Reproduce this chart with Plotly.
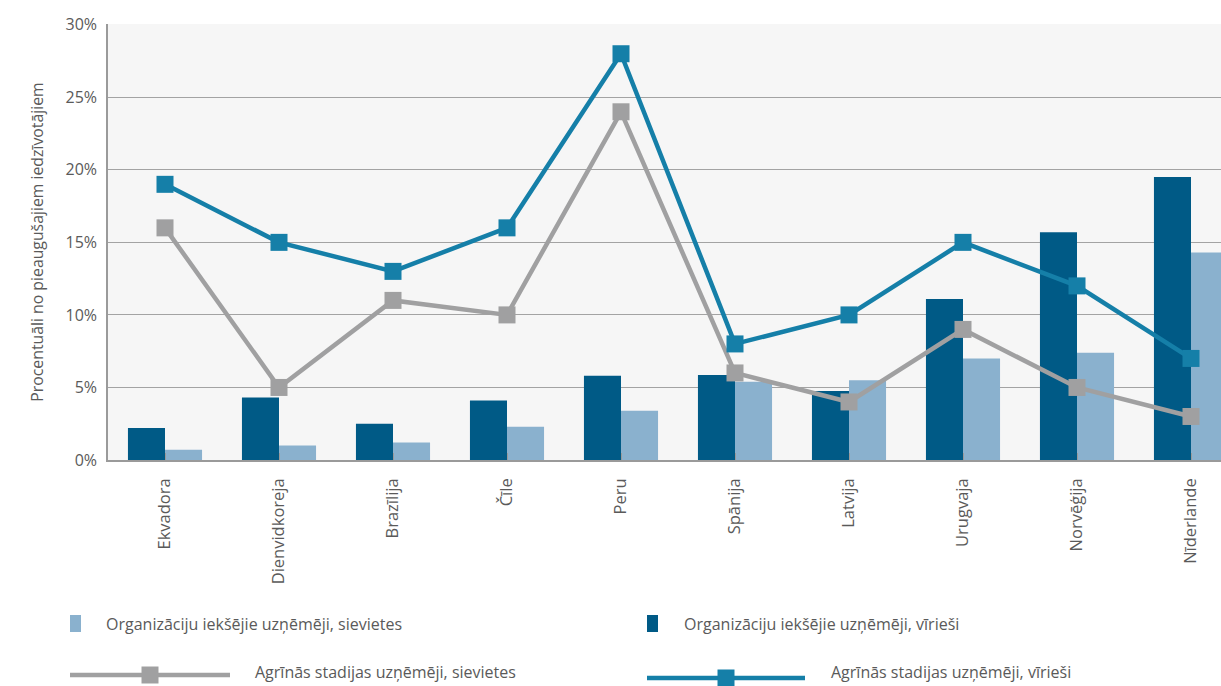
import plotly.graph_objects as go

countries = ["Ekvadora", "Dienvidkoreja", "Brazīlija", "Čīle", "Peru",
             "Spānija", "Latvija", "Urugvaja", "Norvēģija", "Nīderlande"]
org_men = [2.2, 4.3, 2.5, 4.1, 5.8, 5.85, 4.75, 11.1, 15.7, 19.5]
org_women = [0.7, 1.0, 1.2, 2.3, 3.4, 5.4, 5.5, 7.0, 7.4, 14.3]
early_men = [19, 15, 13, 16, 28, 8, 10, 15, 12, 7]
early_women = [16, 5, 11, 10, 24, 6, 4, 9, 5, 3]
y_ticks = [0, 5, 10, 15, 20, 25, 30]
y_tick_labels = [f"{v}%" for v in y_ticks]

names = {
    "org_women": "Organizāciju iekšējie uzņēmēji, sievietes",
    "org_men": "Organizāciju iekšējie uzņēmēji, vīrieši",
    "early_women": "Agrīnās stadijas uzņēmēji, sievietes",
    "early_men": "Agrīnās stadijas uzņēmēji, vīrieši",
}

C_DARK = "#005a86"
C_LIGHT = "#8ab1ce"
C_BLUE = "#157fa8"
C_GREY = "#a0a0a1"
TXT = "#5a5a5a"
FONT = "Open Sans"

W, H = 1221, 686
ML, MR, MT, MB = 108, 0, 24, 226

x_idx = list(range(len(countries)))

fig = go.Figure()
fig.add_trace(go.Bar(x=x_idx, y=org_men, name=names["org_men"],
                     marker=dict(color=C_DARK, line=dict(width=0)), showlegend=False))
fig.add_trace(go.Bar(x=x_idx, y=org_women, name=names["org_women"],
                     marker=dict(color=C_LIGHT, line=dict(width=0)), showlegend=False))
fig.add_trace(go.Scatter(x=x_idx, y=early_women, name=names["early_women"], mode="lines+markers",
                         line=dict(color=C_GREY, width=4.5),
                         marker=dict(symbol="square", size=17, color=C_GREY), showlegend=False))
fig.add_trace(go.Scatter(x=x_idx, y=early_men, name=names["early_men"], mode="lines+markers",
                         line=dict(color=C_BLUE, width=4.5),
                         marker=dict(symbol="square", size=17, color=C_BLUE), showlegend=False))

# plot area spans 108..1221 px; each category is 114 px wide, last one runs past the edge
cat_px = 114
plot_w = W - ML - MR
x_end = -0.5 + plot_w / cat_px

fig.update_layout(
    width=W, height=H,
    margin=dict(l=ML, r=MR, t=MT, b=MB, pad=0),
    paper_bgcolor="white", plot_bgcolor="#f6f6f6",
    barmode="group", bargap=0.35, bargroupgap=0,
    font=dict(family=FONT, color=TXT, size=16),
    xaxis=dict(range=[-0.5, x_end], tickmode="array", tickvals=x_idx, ticktext=countries,
               tickangle=-90, tickson="boundaries", ticks="inside", ticklen=7,
               tickcolor="#9a9a9a", tickwidth=1, showgrid=False, showline=True,
               linecolor="#9a9a9a", linewidth=1.5, ticklabelstandoff=10,
               tickfont=dict(size=16.5, color=TXT)),
    yaxis=dict(range=[0, 30.05], tickmode="array", tickvals=y_ticks, ticktext=y_tick_labels,
               showgrid=True, gridcolor="#a3a3a3", gridwidth=1, zeroline=False,
               showline=True, linecolor="#9a9a9a", linewidth=1.5, ticks="",
               ticklabelstandoff=6, tickfont=dict(size=16, color=TXT),
               title=dict(text="Procentuāli no pieaugušajiem iedzīvotājiem",
                          font=dict(size=15.8, color=TXT), standoff=18)),
)

# hand-drawn legend below the chart (pixel positions converted to paper coords)
def px(xp):
    return (xp - ML) / plot_w

def py(yp):
    return (H - MB - yp) / (H - MT - MB)

shapes = []
annotations = []
# bar swatches
for x0, color, key, tx in [(70, C_LIGHT, "org_women", 104), (647, C_DARK, "org_men", 682)]:
    shapes.append(dict(type="rect", xref="paper", yref="paper",
                       x0=px(x0), x1=px(x0 + 11), y0=py(632), y1=py(615),
                       fillcolor=color, line=dict(width=0)))
    annotations.append(dict(xref="paper", yref="paper", x=px(tx), y=py(624),
                            text=names[key], showarrow=False, xanchor="left", yanchor="middle",
                            font=dict(size=16, color=TXT)))
# line swatches
for x0, x1, yl, color, key, tx in [(70, 230, 675, C_GREY, "early_women", 253),
                                   (647, 805, 678, C_BLUE, "early_men", 829)]:
    shapes.append(dict(type="line", xref="paper", yref="paper",
                       x0=px(x0), x1=px(x1), y0=py(yl), y1=py(yl),
                       line=dict(color=color, width=4.5)))
    xc = (x0 + x1) / 2
    shapes.append(dict(type="rect", xref="paper", yref="paper",
                       x0=px(xc - 8.5), x1=px(xc + 8.5), y0=py(yl + 8.5), y1=py(yl - 8.5),
                       fillcolor=color, line=dict(width=0)))
    annotations.append(dict(xref="paper", yref="paper", x=px(tx), y=py(672),
                            text=names[key], showarrow=False, xanchor="left", yanchor="middle",
                            font=dict(size=16, color=TXT)))

fig.update_layout(shapes=shapes, annotations=annotations)

fig.write_html("out.html")
